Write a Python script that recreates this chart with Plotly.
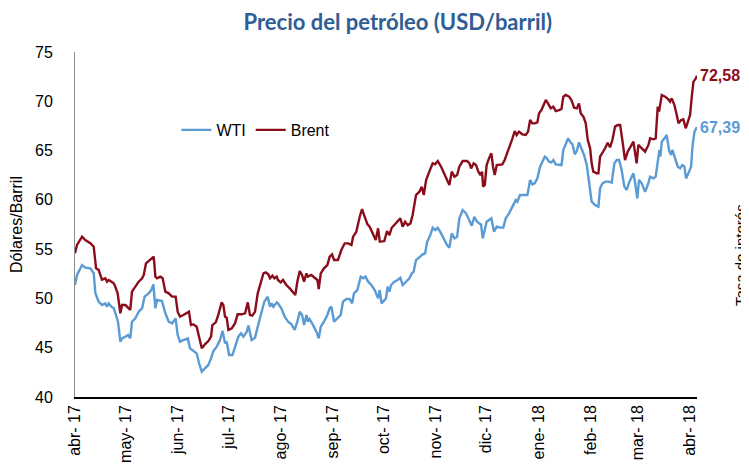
import pandas as pd
import plotly.graph_objects as go

# ---- data ----
start_date = "2017-04-09"          # first date shown (day 0)

brent_day = [0, 1.2, 4.2, 6.1, 9.1, 11.1, 12.5, 14.0, 16.0, 18.0, 19.0, 20.0, 21.6, 23.0, 23.9, 25.3,
             26.9, 27.9, 29.9, 31.5, 32.8, 33.8, 35.8, 37.8, 39.8, 40.8, 42.1, 43.7, 45.7, 46.7, 47.7,
             48.7, 50.6, 52.0, 53.6, 55.6, 57.6,
             59.7, 60.9, 62.3, 64.3, 66.3, 67.6, 68.8, 70.2, 72.2, 73.6, 75.2, 77.1, 79.1, 80.7, 81.5,
             83.5, 85.0, 87.0, 88.0, 89.0, 90.0, 91.0, 93.0, 94.9, 96.5, 98.9, 100.9, 102.5, 103.8,
             105.2, 106.8, 108.4, 110.4, 111.8, 113.1, 114.7, 115.7, 117.1, 118.3, 119.7,
             120.4, 122.0, 123.4, 125.4, 127.4, 129.3, 130.7, 131.9, 133.3, 134.7, 135.9, 137.3, 138.2,
             140.2, 142.2, 143.8, 144.6, 145.8, 147.7, 149.7, 151.1, 152.5, 153.7, 156.0, 158.0, 160.0,
             162.0, 164.0, 165.0, 166.9, 168.9, 170.3, 171.5, 173.5, 174.8, 176.8, 178.4, 179.8, 180.8,
             181.6, 183.5, 185.1, 186.5, 187.9, 189.9, 191.4, 193.0, 194.4, 195.8, 197.4, 199.0, 200.3,
             202.3, 204.3, 205.7, 206.9, 208.3, 210.2, 212.2, 213.6, 215.2, 217.2, 219.1, 221.1, 222.1,
             223.5, 225.1, 226.7, 228.0, 230.0, 232.6, 234.0, 235.0, 236.5, 237.9, 239.3, 240.5, 241.5,
             242.1,
             243.1, 244.2, 245.6, 247.0, 248.0, 249.0, 250.2, 252.2, 253.5, 254.9, 256.5, 258.1, 259.5,
             260.9, 262.0, 263.4, 265.4, 267.4, 268.8, 270.0, 271.3, 272.7, 274.3, 275.3, 276.7, 277.9,
             279.3, 280.6, 282.2, 283.8, 285.2, 287.2, 288.6, 289.7, 291.1, 293.1, 294.5, 296.1, 297.7,
             299.0, 300.0, 301.6, 303.0,
             304.2, 305.6, 306.5, 307.5, 309.5, 310.5, 311.5, 312.9, 314.5, 316.0, 317.4, 318.8, 320.4,
             322.0, 323.4, 324.7, 326.3, 327.9, 329.9, 331.3, 332.3, 333.2, 334.2, 336.2, 338.2, 340.2,
             341.2, 343.1, 344.5, 345.7, 346.5, 348.1, 350.1, 352.0, 353.0, 354.0, 355.6, 357.0, 358.0,
             359.6, 360.9, 362.3, 363.5, 364.9, 365.9, 366.9, 368.3, 369.0]
brent_usd = [54.58, 55.42, 56.27, 55.93, 55.60, 55.25, 53.05, 52.90, 51.90, 52.04, 51.70, 51.87, 51.70, 51.53, 51.20, 50.52,
             48.49, 49.33, 49.33, 49.00, 48.83, 50.69, 51.20, 51.70, 52.04, 52.38, 53.56, 53.80, 54.14, 54.24, 52.21,
             52.04, 52.21, 52.04, 50.69, 50.52, 50.18,
             50.18, 48.66, 48.15, 48.32, 48.49, 48.66, 47.30, 47.37, 47.13, 46.12, 44.94, 45.34, 45.68, 46.12, 47.30,
             47.57, 48.32, 49.60, 49.33, 48.15, 48.05, 46.80, 46.97, 47.47, 48.39, 48.39, 48.49, 49.60, 48.32,
             48.25, 48.66, 50.52, 51.70, 52.55, 52.65, 52.44, 52.04, 52.31, 52.04, 52.21,
             51.87, 51.63, 51.87, 51.36, 51.02, 50.68, 50.35, 51.70, 52.78, 52.38, 51.70, 52.54, 52.21,
             52.38, 52.04, 51.87, 50.95, 52.54, 53.05, 53.39, 54.23, 54.47, 53.90, 53.90, 54.91, 55.59,
             55.59, 55.42, 56.26, 56.77, 58.29, 59.07, 58.46, 57.51, 57.28, 56.43, 55.93, 57.11, 55.76,
             55.76, 55.82, 56.84, 56.43, 57.17, 57.51, 57.78, 58.12, 57.28, 57.78, 57.44, 57.61, 58.46,
             60.49, 60.83, 61.33, 60.49, 62.01, 62.86, 63.70, 63.60, 63.94, 63.36, 62.69, 61.84, 61.50,
             62.86, 62.35, 62.52, 63.36, 63.94, 63.94, 63.70, 63.19, 63.70, 63.53, 62.86, 62.52, 62.86,
             61.33,
             61.50, 63.53, 64.21, 64.72, 63.36, 62.52, 63.53, 63.53, 63.60, 64.04, 64.72, 65.56, 66.24,
             66.98, 66.58, 66.92, 66.65, 66.58, 66.92, 68.10, 67.76, 67.76, 67.86, 68.78, 69.11, 69.62,
             70.13, 69.79, 69.28, 69.45, 69.01, 69.11, 69.22, 70.47, 70.64, 70.47, 70.13, 69.35, 69.28,
             69.79, 68.78, 68.44, 67.76,
             66.07, 65.23, 63.71, 62.86, 62.69, 62.69, 64.38, 64.72, 65.23, 65.80, 65.33, 66.07, 67.43,
             67.60, 67.60, 66.07, 64.04, 64.89, 65.46, 65.90, 64.72, 63.71, 65.57, 65.23, 64.89, 65.57,
             66.24, 66.14, 66.24, 69.46, 68.95, 70.64, 70.47, 70.20, 69.96, 70.30, 69.62, 68.61, 67.76,
             68.10, 68.17, 67.26, 67.93, 68.61, 70.47, 71.99, 72.33, 72.58]

wti_day = [0, 1.2, 4.2, 6.1, 9.1, 11.1, 12.1, 14.0, 16.0, 18.0, 19.0, 20.0, 21.6, 23.0, 24.3, 25.5,
           26.9, 27.9, 29.9, 31.5, 32.8, 33.8, 35.8, 37.8, 39.8, 41.3, 43.7, 45.3, 46.5, 47.7, 48.7,
           51.6, 53.6, 55.6, 57.6,
           59.7, 60.9, 62.3, 64.3, 66.9, 68.2, 70.2, 72.2, 73.6, 75.2, 77.1, 79.1, 80.7, 82.1, 84.1,
           86.0, 87.6, 89.0, 90.0, 91.4, 93.4, 94.9, 96.9, 98.5, 99.9, 101.9, 102.9, 104.8, 106.8,
           108.4, 110.4, 112.3, 114.3, 115.7, 116.7, 117.7, 119.7,
           120.4, 122.4, 124.4, 126.4, 128.4, 130.3, 131.9, 133.3, 134.7, 135.9, 137.3, 138.2, 139.2,
           141.2, 143.2, 144.6, 145.8, 147.7, 149.7, 151.1, 152.1, 153.7, 155.7, 157.6, 159.0, 161.0,
           163.0, 164.4, 165.5, 167.5, 169.5, 170.9, 172.3, 173.9, 175.8, 177.8, 179.8, 180.8, 181.8,
           184.5, 185.5, 186.5, 187.5, 189.5, 191.4, 193.0, 194.4, 196.4, 198.4, 199.8, 200.9, 202.3,
           204.3, 206.3, 207.7, 208.9, 210.8, 212.2, 213.6, 215.2, 217.2, 219.1, 220.7, 222.1, 223.5,
           225.1, 226.7, 228.0, 230.0, 232.0, 234.0, 235.4, 236.9, 238.5, 239.9, 240.9, 241.9,
           243.1, 244.2, 245.6, 247.0, 248.6, 250.2, 252.2, 254.1, 255.5, 257.5, 259.5, 261.5, 262.4,
           264.0, 266.0, 268.4, 270.0, 271.3, 272.7, 274.3, 275.9, 277.3, 278.7, 279.9, 281.2, 282.6,
           283.8, 285.2, 287.2, 288.6, 289.7, 291.1, 292.5, 293.7, 295.1, 296.5, 297.7, 299.0, 300.4,
           302.0, 303.6,
           305.6, 306.5, 308.5, 310.5, 311.5, 312.9, 314.8, 316.8, 318.4, 320.0, 321.4, 322.8, 324.3,
           325.9, 327.3, 328.7, 330.3, 331.3, 332.3, 333.6, 334.6, 336.2, 338.2, 339.8, 341.2, 343.1,
           344.5, 346.1, 346.7, 347.3, 348.1, 349.7, 351.0, 352.4, 353.6, 354.4, 356.0, 357.6, 359.0,
           360.3, 361.5, 362.5, 363.9, 365.5, 366.3, 367.5, 369.0]
wti_usd = [51.36, 52.38, 53.39, 53.12, 53.05, 52.55, 50.52, 49.67, 49.33, 49.50, 49.16, 49.50, 49.16, 49.00, 48.32, 47.64,
           45.61, 45.95, 46.12, 46.29, 45.95, 47.64, 47.98, 48.66, 49.00, 50.18, 50.52, 50.86, 51.43, 49.00, 49.84,
           49.74, 48.49, 47.64, 47.47,
           47.98, 46.29, 45.61, 45.78, 45.95, 44.94, 44.67, 44.43, 43.42, 42.57, 42.91, 43.25, 43.92, 44.67, 45.11,
           45.78, 46.70, 45.44, 45.61, 44.26, 44.26, 45.11, 46.12, 46.46, 46.12, 46.63, 47.24, 45.78, 46.02,
           47.13, 48.49, 49.67, 50.18, 49.16, 49.50, 49.16, 49.60,
           49.50, 49.00, 48.15, 47.64, 47.37, 46.80, 47.64, 48.65, 48.32, 47.30, 48.32, 47.64, 47.91,
           47.30, 46.63, 45.95, 47.13, 47.64, 48.32, 49.00, 49.16, 47.64, 47.98, 48.32, 49.67, 49.94,
           49.94, 49.50, 50.51, 50.85, 52.21, 52.04, 52.21, 51.70, 51.36, 50.85, 50.01, 50.85, 49.50,
           50.00, 51.19, 50.68, 51.36, 51.70, 51.87, 52.10, 51.36, 51.70, 52.04, 52.54, 52.71, 53.89,
           54.23, 54.47, 54.57, 55.75, 56.43, 57.17, 56.94, 57.17, 56.60, 55.92, 55.42, 55.15, 56.60,
           56.09, 56.26, 58.12, 58.97, 58.63, 57.95, 57.38, 58.29, 57.78, 57.61, 57.51, 56.09,
           57.11, 57.78, 57.95, 58.12, 56.77, 57.28, 57.18, 57.18, 58.12, 58.63, 59.31, 59.98, 59.81,
           60.49, 60.49, 60.49, 62.01, 61.57, 61.67, 62.18, 63.36, 63.94, 64.38, 64.21, 63.87, 63.80,
           64.04, 63.60, 63.53, 63.53, 65.06, 65.73, 66.24, 65.90, 65.63, 64.62, 64.95, 65.83, 65.29,
           64.55, 63.53,
           61.00, 59.82, 59.48, 59.31, 61.17, 61.68, 61.85, 61.85, 61.75, 63.71, 64.04, 64.04, 63.03,
           61.34, 61.00, 61.75, 62.35, 62.69, 61.68, 60.16, 62.02, 61.68, 60.83, 61.51, 62.35, 62.18,
           62.35, 64.38, 65.06, 64.38, 65.90, 66.24, 66.58, 65.06, 64.55, 65.06, 64.21, 63.37, 63.20,
           63.54, 63.37, 62.18, 62.69, 63.37, 65.40, 66.92, 67.39]

month_labels = ["abr- 17", "may- 17", "jun- 17", "jul- 17", "ago- 17", "sep- 17", "oct- 17",
                "nov- 17", "dic- 17", "ene- 18", "feb- 18", "mar- 18", "abr- 18"]

# ---- build ----
t0 = pd.Timestamp(start_date)
brent_x = t0 + pd.to_timedelta(brent_day, unit="D")
wti_x = t0 + pd.to_timedelta(wti_day, unit="D")
tick_x = [t0 + pd.DateOffset(months=i) for i in range(len(month_labels))]

WTI_C = "#5B9BD5"
BRENT_C = "#8B0D1C"
FONT = "Liberation Sans, Arial"

fig = go.Figure()
fig.add_trace(go.Scatter(x=wti_x, y=wti_usd, mode="lines", name="WTI",
                         line=dict(color=WTI_C, width=2.4)))
fig.add_trace(go.Scatter(x=brent_x, y=brent_usd, mode="lines", name="Brent",
                         line=dict(color=BRENT_C, width=2.4)))

def fmt(v):
    return f"{v:.2f}".replace(".", ",")

fig.add_annotation(x=brent_x[-1], y=brent_usd[-1], text=fmt(brent_usd[-1]), showarrow=False,
                   xanchor="left", yanchor="middle", xshift=1,
                   font=dict(family=FONT, size=16, color=BRENT_C, weight="bold"))
fig.add_annotation(x=wti_x[-1], y=wti_usd[-1], text=fmt(wti_usd[-1]), showarrow=False,
                   xanchor="left", yanchor="middle", xshift=1,
                   font=dict(family=FONT, size=16, color=WTI_C, weight="bold"))
fig.add_annotation(xref="paper", yref="paper", x=1.07, y=0.41, text="Tasa de interés",
                   textangle=-90, showarrow=False, xanchor="center", yanchor="middle",
                   font=dict(family=FONT, size=15, color="#000000"))

# page has an 8 px body margin: figure is sized so the plot area lands where the reference has it
fig.update_layout(
    width=741, height=464,
    margin=dict(l=67, r=52, t=44, b=75, autoexpand=False),
    paper_bgcolor="white", plot_bgcolor="white",
    title=dict(text="<b>Precio del petróleo (USD/barril)</b>", x=0.526, xanchor="center",
               y=0.97, yanchor="middle",
               font=dict(family="Lato, Open Sans", size=22, color="#2F5D95")),
    font=dict(family=FONT, color="#000000"),
    showlegend=True,
    legend=dict(orientation="h", x=0.163, y=0.774, xanchor="left", yanchor="middle",
                bgcolor="rgba(0,0,0,0)", font=dict(size=16, color="#000000"),
                itemwidth=30, tracegroupgap=0),
)
fig.update_xaxes(type="date", range=[t0, brent_x[-1]], tickmode="array", tickvals=tick_x,
                 ticktext=month_labels, tickangle=-90, showgrid=False, zeroline=False,
                 showline=True, linecolor="#000000", linewidth=1.5, ticks="", automargin=False,
                 tickfont=dict(size=16, color="#000000"))
fig.update_yaxes(range=[40, 75], dtick=5, showgrid=False, zeroline=False, showline=True,
                 linecolor="#8C8C8C", linewidth=1, ticks="", ticklabelstandoff=18, automargin=False,
                 tickfont=dict(size=16, color="#000000"),
                 title=dict(text="Dólares/Barril", standoff=14, font=dict(size=16, color="#000000")))

fig.write_html("out.html")
